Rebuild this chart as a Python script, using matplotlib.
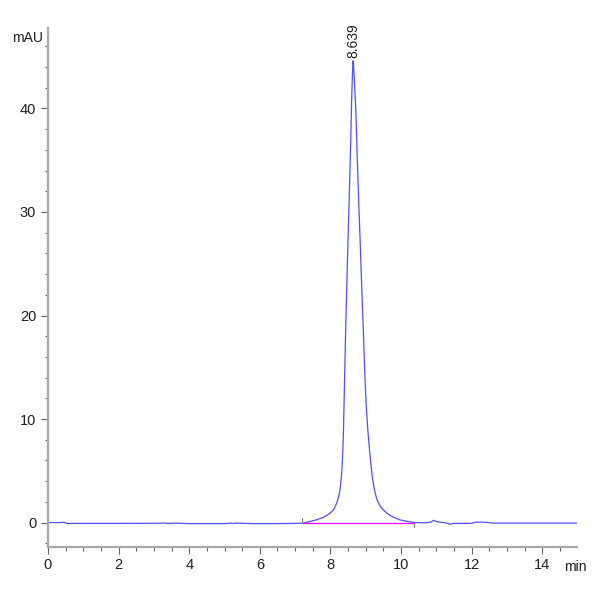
import matplotlib
matplotlib.use("Agg")
import matplotlib.pyplot as plt
from matplotlib.ticker import MultipleLocator

plt.rcParams['font.family'] = ['Liberation Sans Narrow', 'Liberation Sans', 'DejaVu Sans']

# chromatogram trace (min, mAU)
time = [0.0, 0.40, 0.45, 0.50, 0.55, 1.0, 2.0, 3.0, 3.35, 3.40, 3.45, 3.50, 3.60,
        4.0, 5.0, 5.20, 5.25, 5.30, 5.80, 6.5, 7.0, 7.23, 7.60, 7.80, 7.99,
        8.10, 8.18, 8.24, 8.28, 8.32, 8.35, 8.37, 8.40, 8.43, 8.46, 8.50,
        8.53, 8.57, 8.60, 8.62, 8.639, 8.655, 8.675, 8.70, 8.72, 8.76, 8.80,
        8.85, 8.89, 8.94, 8.98, 9.02, 9.06, 9.10, 9.15, 9.19, 9.25, 9.31,
        9.38, 9.45, 9.52, 9.60, 9.70, 9.80, 9.97, 10.2, 10.4, 10.7, 10.85,
        10.92, 11.0, 11.1, 11.25, 11.39, 11.5, 11.8, 12.0, 12.14, 12.4,
        12.6, 13.0, 14.0, 15.0]
signal = [0.0, 0.0, 0.05, -0.05, -0.08, -0.08, -0.08, -0.07, -0.05, -0.1, -0.05,
          -0.08, -0.05, -0.1, -0.1, -0.05, -0.1, -0.05, -0.1, -0.1, -0.08, -0.05,
          0.26, 0.5, 0.9, 1.3, 1.9, 2.6, 3.4, 4.8, 6.8, 8.9, 13.8, 18.3, 22.5,
          27.5, 31.1, 36.2, 40.6, 43.0, 44.6, 44.2, 42.9, 41.2, 39.8, 35.2,
          31.1, 26.4, 22.5, 17.8, 13.8, 11.0, 8.9, 7.3, 5.5, 4.3, 3.1, 2.3,
          1.75, 1.4, 1.15, 0.9, 0.68, 0.5, 0.26, 0.1, 0.0, -0.02, 0.05, 0.22,
          0.1, 0.05, -0.02, -0.15, -0.08, -0.08, -0.07, 0.05, 0.03, -0.05,
          -0.05, -0.05, -0.05]

peak_rt = 8.639
peak_height = 44.6
baseline_start = 7.23
baseline_end = 10.37

fig = plt.figure(figsize=(6, 6), dpi=100)
ax = fig.add_axes([0.08, 0.089, 0.882, 0.864])

ax.plot(time, signal, color='#5050ff', lw=0.9)
ax.plot([baseline_start, baseline_end], [-0.05, -0.05], color='#ff00ff', lw=0.9)
ax.plot([baseline_start - 0.03] * 2, [-0.05, 0.45], color='#808080', lw=0.8)
ax.plot([baseline_end] * 2, [-0.05, -0.45], color='#808080', lw=0.8)

ax.text(peak_rt, peak_height + 0.3, '%.3f' % peak_rt, rotation=90,
        ha='center', va='bottom', fontsize=10, color='#202020')

ax.set_xlim(0, 14.99)
ax.set_ylim(-2.32, 47.75)

for s in ['top', 'right']:
    ax.spines[s].set_visible(False)
for s in ['left', 'bottom']:
    ax.spines[s].set_color('#a8a8a8')
    ax.spines[s].set_linewidth(1.6)

ax.xaxis.set_major_locator(MultipleLocator(2))
ax.xaxis.set_minor_locator(MultipleLocator(0.5))
ax.yaxis.set_major_locator(MultipleLocator(10))
ax.yaxis.set_minor_locator(MultipleLocator(2))
ax.tick_params(which='major', length=5, width=0.8, color='#606060',
               labelsize=10.5, labelcolor='#202020')
ax.tick_params(which='minor', length=3, width=0.8, color='#606060')
ax.tick_params(axis='y', which='minor', length=2)

fig.text(0.072, 0.937, 'mAU', ha='right', va='center', fontsize=10, color='#202020')
fig.text(0.94, 0.055, 'min', ha='left', va='center', fontsize=10, color='#202020')

fig.savefig('out.png', dpi=100)
